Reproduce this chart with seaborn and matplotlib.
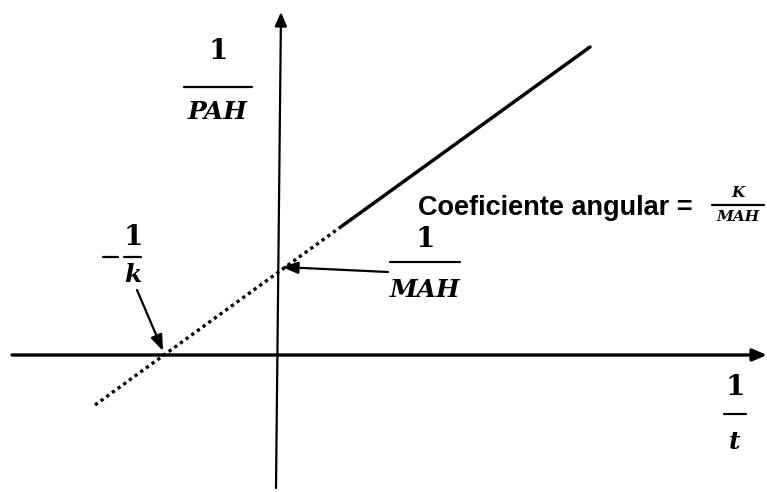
import matplotlib
matplotlib.use("Agg")
import matplotlib.pyplot as plt
import seaborn as sns
import pandas as pd

# line (1 unit = 100 px, origin at the axes crossing)
x_dotted = [-1.83, 0.64]
y_dotted = [-0.50, 1.29]
x_solid = [0.64, 3.12]
y_solid = [1.29, 3.08]
x_intercept = -1.15
y_intercept = 0.83

lbl_y = ("1", "PAH")
lbl_x = ("1", "t")
lbl_int_x = ("1", "k")
lbl_int_y = ("1", "MAH")
lbl_slope = ("K", "MAH")
slope_text = "Coeficiente angular ="

sns.set_theme(style="white")
plt.rcParams["font.family"] = ["DejaVu Serif"]
plt.rcParams["text.color"] = "black"

fig = plt.figure(figsize=(7.67, 4.92), dpi=100)
ax = fig.add_axes([0, 0, 1, 1])
ax.set_xlim(-2.78, 4.89)
ax.set_ylim(-1.37, 3.55)
ax.axis("off")

df_dot = pd.DataFrame({"x": x_dotted, "y": y_dotted})
df_sol = pd.DataFrame({"x": x_solid, "y": y_solid})
sns.lineplot(data=df_dot, x="x", y="y", ax=ax, color="black", lw=2.4,
             linestyle=(0, (1, 1.1)), sort=False)
sns.lineplot(data=df_sol, x="x", y="y", ax=ax, color="black", lw=2.5, sort=False)

# axes with arrows
ax.annotate("", xy=(4.89, 0), xytext=(-2.66, 0),
            arrowprops=dict(arrowstyle="-|>,head_length=0.7,head_width=0.3",
                            color="black", lw=2.4, shrinkA=0, shrinkB=0))
ax.annotate("", xy=(0.03, 3.43), xytext=(-0.02, -1.33),
            arrowprops=dict(arrowstyle="-|>,head_length=0.7,head_width=0.3",
                            color="black", lw=1.6, shrinkA=0, shrinkB=0))


def fraction(xc, yb, num, den, half, size=18, num_size=20, lw=1.6,
             gap_num=0.08, gap_den=0.08, num_style="normal"):
    ax.text(xc, yb + gap_num, num, ha="center", va="bottom", fontsize=num_size,
            fontweight="bold", fontstyle=num_style)
    ax.plot([xc - half, xc + half], [yb, yb], color="black", lw=lw)
    ax.text(xc, yb - gap_den, den, ha="center", va="top", fontsize=size,
            fontweight="bold", fontstyle="italic")


fraction(-0.60, 2.68, *lbl_y, half=0.34, gap_num=0.22, gap_den=0.13)
fraction(4.57, -0.59, *lbl_x, half=0.11, gap_num=0.13, gap_den=0.16)
fraction(1.47, 0.93, *lbl_int_y, half=0.35, gap_num=0.09, gap_den=0.16)
fraction(-1.45, 0.98, *lbl_int_x, half=0.085, gap_num=0.06, gap_den=0.06)
ax.plot([-1.75, -1.60], [0.98, 0.98], color="black", lw=1.6)
fraction(4.60, 1.50, *lbl_slope, half=0.26, size=11, num_size=11,
         gap_num=0.05, gap_den=0.05, num_style="italic")

ax.text(1.40, 1.47, slope_text, ha="left", va="center", fontsize=19.5,
        fontweight="bold", family="Liberation Sans")

# pointer arrows
ax.annotate("", xy=(x_intercept, 0.04), xytext=(-1.41, 0.65),
            arrowprops=dict(arrowstyle="-|>,head_length=0.8,head_width=0.3",
                            color="black", lw=1.6, shrinkA=0, shrinkB=0))
ax.annotate("", xy=(0.04, y_intercept + 0.05), xytext=(1.10, 0.83),
            arrowprops=dict(arrowstyle="-|>,head_length=0.8,head_width=0.3",
                            color="black", lw=1.6, shrinkA=0, shrinkB=0))

fig.savefig("out.png", dpi=100)
